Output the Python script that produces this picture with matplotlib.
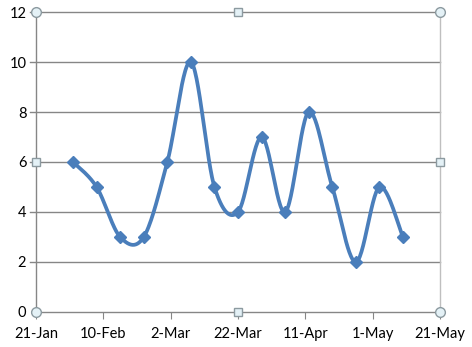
import datetime as dt

import matplotlib

matplotlib.use("Agg")

import matplotlib.dates as mdates  # noqa: E402
import matplotlib.pyplot as plt  # noqa: E402
import numpy as np  # noqa: E402

# weekly observations
dates = ["2013-02-01", "2013-02-08", "2013-02-15", "2013-02-22", "2013-03-01",
         "2013-03-08", "2013-03-15", "2013-03-22", "2013-03-29", "2013-04-05",
         "2013-04-12", "2013-04-19", "2013-04-26", "2013-05-03", "2013-05-10"]
values = [6, 5, 3, 3, 6, 10, 5, 4, 7, 4, 8, 5, 2, 5, 3]
x_ticks = ["2013-01-21", "2013-02-10", "2013-03-02", "2013-03-22",
           "2013-04-11", "2013-05-01", "2013-05-21"]
y_ticks = [0, 2, 4, 6, 8, 10, 12]

LINE = "#4A7EBB"
GRID = "#868686"


def _smooth(x, y, n=30):
    """Excel-like smoothed line: Catmull-Rom Bezier segments between points."""
    px = np.concatenate([[x[0]], x, [x[-1]]])
    py = np.concatenate([[y[0]], y, [y[-1]]])
    xs, ys = [], []
    t = np.linspace(0, 1, n)
    for i in range(1, len(px) - 2):
        p0 = np.array([px[i], py[i]])
        p3 = np.array([px[i + 1], py[i + 1]])
        c1 = p0 + (p3 - np.array([px[i - 1], py[i - 1]])) / 6
        c2 = p3 - (np.array([px[i + 2], py[i + 2]]) - p0) / 6
        b = ((1 - t) ** 3)[:, None] * p0 + (3 * (1 - t) ** 2 * t)[:, None] * c1 \
            + (3 * (1 - t) * t ** 2)[:, None] * c2 + (t ** 3)[:, None] * p3
        xs.append(b[:, 0])
        ys.append(b[:, 1])
    return np.concatenate(xs), np.concatenate(ys)


plt.rcParams["font.family"] = ["Lato", "DejaVu Sans"]

xd = mdates.date2num([dt.date.fromisoformat(d) for d in dates])
xt = mdates.date2num([dt.date.fromisoformat(d) for d in x_ticks])

fig = plt.figure(figsize=(4.72, 3.47), dpi=100)
ax = fig.add_axes([0.0763, 0.1009, 0.8559, 0.8645])

sx, sy = _smooth(xd, np.asarray(values, dtype=float))
ax.plot(sx, sy, color=LINE, linewidth=2.7, solid_capstyle="round", zorder=3)
ax.plot(xd, values, linestyle="none", marker="D", markersize=6.5,
        color=LINE, zorder=4)

ax.set_xlim(xt[0], xt[-1])
ax.set_ylim(0, 12)
ax.set_xticks(xt)
ax.set_xticklabels([f"{d.day}-{d.strftime('%b')}" for d in
                    (dt.date.fromisoformat(s) for s in x_ticks)])
ax.set_yticks(y_ticks)
ax.set_yticklabels([str(v) for v in y_ticks])
ax.tick_params(axis="both", labelsize=10.5, colors="black", length=0, pad=7)
ax.tick_params(axis="x", length=5, color=GRID, direction="out", pad=6)

for v in y_ticks[1:]:
    ax.plot([-0.015, 1], [v / 12, v / 12], transform=ax.transAxes,
            color=GRID, linewidth=1, clip_on=False, zorder=1)

ax.spines["top"].set_visible(False)
ax.spines["left"].set_color(GRID)
ax.spines["bottom"].set_color(GRID)
ax.spines["right"].set_color("#BFBFBF")
for s in ax.spines.values():
    s.set_linewidth(1)

# selection handles of the plot area
for hx, hy in [(0, 0), (0, 1), (1, 0), (1, 1)]:
    ax.plot(hx, hy, marker="o", markersize=7, markerfacecolor="#E4F1F6",
            markeredgecolor="#8C9AA0", markeredgewidth=1,
            transform=ax.transAxes, clip_on=False, zorder=5)
for hx, hy in [(0.5, 0), (0.5, 1), (0, 0.5), (1, 0.5)]:
    ax.plot(hx, hy, marker="s", markersize=6, markerfacecolor="#E4F1F6",
            markeredgecolor="#8C9AA0", markeredgewidth=1,
            transform=ax.transAxes, clip_on=False, zorder=5)

fig.savefig("out.png", dpi=100)
